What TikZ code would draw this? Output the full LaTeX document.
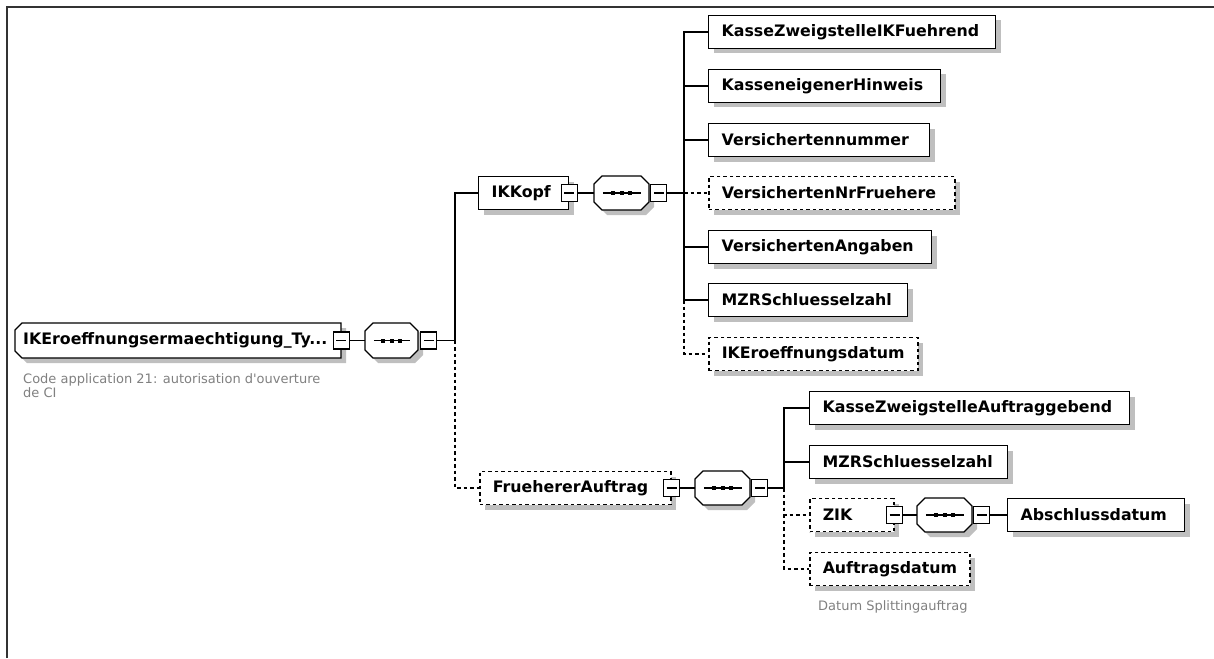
\documentclass[tikz,border=0pt]{standalone}
\usepackage{fontspec}
\setmainfont{DejaVu Sans}
\newfontfamily\descfont{DejaVu Sans}[Ligatures=TeXOff]
\usetikzlibrary{shadows,fit}
\definecolor{shadowc}{gray}{0.75}
\definecolor{desccol}{gray}{0.5}
\newcommand\octpath[4]{({#1+8},#2) -- ({#3-8},#2) -- (#3,{#2+8}) -- (#3,{#4-8}) -- ({#3-8},#4) -- ({#1+8},#4) -- (#1,{#4-8}) -- (#1,{#2+8}) -- cycle}
\newcommand\compo[5]{%
  \fill[shadowc,shift={(5,5)}] \octpath{#2}{#3}{#4}{#5};
  \draw[ln,fill=white] \octpath{#2}{#3}{#4}{#5};
  \node[fit={(#2,#3) (#4,#5)},inner sep=0pt] (#1) {};
  \draw[ln] ([xshift=9pt]#1.west) -- ([xshift=-8pt]#1.east);
  \fill ([xshift=-8.5pt]#1.center) +(-2,-2) rectangle +(2,2);
  \fill (#1.center) +(-2,-2) rectangle +(2,2);
  \fill ([xshift=8.5pt]#1.center) +(-2,-2) rectangle +(2,2);
}
\tikzset{
  ln/.style={line width=1.3pt},
  opt/.style={dash pattern=on 3.5pt off 3pt},
  el/.style={draw, line width=1.3pt, fill=white, inner xsep=13pt, inner ysep=0pt,
    minimum height=33pt, anchor=west, font=\bfseries\fontsize{15.8}{18}\selectfont,
    drop shadow={shadow xshift=5pt, shadow yshift=-5pt, fill=shadowc, opacity=1}},
  optel/.style={opt, line width=1.5pt},
  cbox/.style={draw, fill=white, line width=1.2pt, minimum width=16pt, minimum height=17pt,
    inner sep=0pt, path picture={\draw[line width=1.2pt] ([xshift=3pt]path picture bounding box.west) -- ([xshift=-3pt]path picture bounding box.east);}},
  desc/.style={text=desccol, font=\descfont\fontsize{13}{14}\selectfont, anchor=west, inner sep=0pt, align=left},
}
\begin{document}
\begin{tikzpicture}[x=1pt,y=-1pt]
\useasboundingbox (0,0) rectangle (1214,658);
\draw[line width=1.5pt, black!80] (7,658) -- (7,7) -- (1214,7);

% root
\fill[shadowc,shift={(5,5)}] (22,323) -- (341,323) -- (341,358) -- (22,358) -- (15,351) -- (15,330) -- cycle;
\draw[ln,fill=white] (22,323) -- (341,323) -- (341,358) -- (22,358) -- (15,351) -- (15,330) -- cycle;
\node[anchor=west, inner xsep=8pt, inner ysep=0pt, font=\bfseries\fontsize{15.8}{18}\selectfont] (root) at (15,340.5) {\makebox[310pt][l]{IKEroeffnungsermaechtigung\_Ty...}};
\node[cbox] (rc) at (root.east) {};
\node[desc] (rootdesc) at (23,386) {Code application 21: autorisation d'ouverture\\de CI};

\compo{cmp1}{365}{323}{418}{358}
\node[cbox, anchor=west] (c1) at ([xshift=2pt]cmp1.east) {};
\draw[ln] (rc.east) -- (cmp1.west);
\coordinate (j1) at (455,340.5);
\draw[ln] (c1.east) -- (j1);

% IKKopf branch
\node[el] (ikkopf) at (478,193) {\makebox[64pt][l]{IKKopf}};
\node[cbox] (ck) at (ikkopf.east) {};
\draw[ln] (j1) |- (ikkopf.west);
\compo{cmp2}{594}{176}{649}{210}
\node[cbox, anchor=west] (c2) at ([xshift=1pt]cmp2.east) {};
\draw[ln] (ck.east) -- (cmp2.west);
\coordinate (j2) at (684,193);
\draw[ln] (c2.east) -- (j2);

\node[el] (kzf) at (708,32) {\makebox[261pt][l]{KasseZweigstelleIKFuehrend}};
\node[el] (kh) at (708,86) {\makebox[206pt][l]{KasseneigenerHinweis}};
\node[el] (vn) at (708,140) {\makebox[195pt][l]{Versichertennummer}};
\node[el,optel] (vnf) at (708,193) {\makebox[220pt][l]{VersichertenNrFruehere}};
\node[el] (va) at (708,247) {\makebox[197pt][l]{VersichertenAngaben}};
\node[el] (mzr) at (708,300) {\makebox[173pt][l]{MZRSchluesselzahl}};
\node[el,optel] (ike) at (708,354) {\makebox[183pt][l]{IKEroeffnungsdatum}};
\draw[ln] (j2) |- (kzf.west);
\draw[ln] (j2) |- (kh.west);
\draw[ln] (j2) |- (vn.west);
\draw[ln] (j2) |- (va.west);
\draw[ln] (j2) |- (mzr.west);
\draw[ln,opt] (j2) -- (vnf.west);
\draw[ln,opt] (mzr.west -| j2) |- (ike.west);

% FruehererAuftrag branch
\node[el,optel] (fa) at (479,488) {\makebox[165pt][l]{FruehererAuftrag}};
\node[cbox] (cfa) at (fa.east) {};
\draw[ln,opt] (j1) |- (fa.west);
\compo{cmp3}{695}{471}{750}{505}
\node[cbox, anchor=west] (c3) at ([xshift=1pt]cmp3.east) {};
\draw[ln] (cfa.east) -- (cmp3.west);
\coordinate (j3) at (784,488);
\draw[ln] (c3.east) -- (j3);

\node[el] (kza) at (809,408) {\makebox[294pt][l]{KasseZweigstelleAuftraggebend}};
\node[el] (mzr2) at (809,462) {\makebox[172pt][l]{MZRSchluesselzahl}};
\node[el,optel] (zik) at (809,515) {\makebox[58pt][l]{ZIK}};
\node[cbox] (czik) at (zik.east) {};
\node[el,optel] (aufd) at (809,569) {\makebox[134pt][l]{Auftragsdatum}};
\node[desc] (aufdesc) at (818,607) {Datum Splittingauftrag};
\draw[ln] (j3) |- (kza.west);
\draw[ln] (j3) |- (mzr2.west);
\draw[ln,opt] (j3) |- (zik.west);
\draw[ln,opt] (j3) |- (aufd.west);

\compo{cmp4}{917}{498}{972}{532}
\node[cbox, anchor=west] (c4) at ([xshift=1pt]cmp4.east) {};
\draw[ln] (czik.east) -- (cmp4.west);
\node[el] (abd) at (1007,515) {\makebox[151pt][l]{Abschlussdatum}};
\draw[ln] (c4.east) -- (abd.west);
\end{tikzpicture}
\end{document}
